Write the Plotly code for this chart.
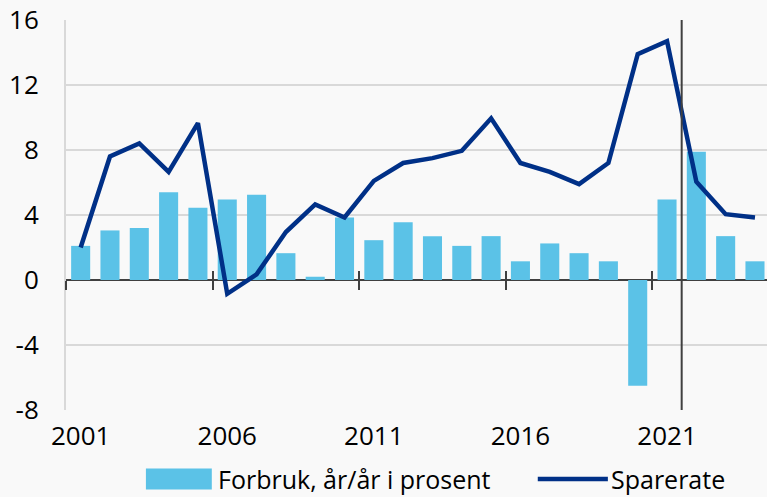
import plotly.graph_objects as go

years = list(range(2001, 2025))
forbruk = [2.1, 3.05, 3.2, 5.4, 4.45, 4.95, 5.25, 1.65, 0.2, 3.85, 2.45,
           3.55, 2.7, 2.1, 2.7, 1.15, 2.25, 1.65, 1.15, -6.5, 4.95, 7.9,
           2.7, 1.15]
sparerate = [2.0, 7.6, 8.4, 6.65, 9.65, -0.85, 0.35, 2.95, 4.65, 3.85, 6.1,
             7.2, 7.5, 7.95, 9.95, 7.2, 6.65, 5.9, 7.2, 13.9, 14.7, 6.05,
             4.05, 3.85]
x_ticks = [2001, 2006, 2011, 2016, 2021]
y_ticks = [-8, -4, 0, 4, 8, 12, 16]
y_ticktext = ["-8", "-4", "0", "4", "8", "12", "16"]
names = ["Forbruk, år/år i prosent", "Sparerate"]

FONT = "Open Sans"
FS = 26
LFS = 25
BAR = "#5BC2E7"
LINE = "#003087"
DARK = "#404040"
GRID = "#d9d9d9"
BG = "#f9f9f9"

xr = [years[0] - 0.5, years[-1] + 0.41]
boundaries = [y - 0.5 for y in x_ticks]
divider = (2021 + 2022) / 2

fig = go.Figure()
fig.add_trace(go.Bar(x=years, y=forbruk, name=names[0], showlegend=False,
                     marker=dict(color=BAR, line=dict(width=0)), width=0.65))
fig.add_trace(go.Scatter(x=years, y=sparerate, name=names[1], mode="lines",
                         showlegend=False, line=dict(color=LINE, width=4.5)))
# invisible helpers for overlay tick axes
for ax in ("x2", "x3"):
    fig.add_trace(go.Scatter(x=[xr[0]], y=[0], xaxis=ax, mode="markers",
                             marker=dict(opacity=0), showlegend=False,
                             hoverinfo="skip"))

fig.add_shape(type="line", xref="x", yref="paper", x0=divider, x1=divider,
              y0=0, y1=1, line=dict(color=DARK, width=2))

# manual legend (wide swatches)
ly = -0.177
fig.add_shape(type="rect", xref="paper", yref="paper", x0=0.114, x1=0.208,
              y0=ly - 0.027, y1=ly + 0.027, fillcolor=BAR, line=dict(width=0))
fig.add_annotation(xref="paper", yref="paper", x=0.216, y=ly,
                   text=names[0], showarrow=False, xanchor="left",
                   yanchor="middle", borderpad=0, font=dict(size=LFS))
fig.add_shape(type="line", xref="paper", yref="paper", x0=0.673, x1=0.773,
              y0=ly, y1=ly, line=dict(color=LINE, width=4.5))
fig.add_annotation(xref="paper", yref="paper", x=0.776, y=ly,
                   text=names[1], showarrow=False, xanchor="left",
                   yanchor="middle", borderpad=0, font=dict(size=LFS))

zero_pos = (0 - y_ticks[0]) / (y_ticks[-1] - y_ticks[0])

fig.update_layout(
    width=767, height=497,
    margin=dict(l=66, r=0, t=20, b=87, autoexpand=False),
    paper_bgcolor=BG, plot_bgcolor=BG,
    font=dict(family=FONT, size=FS, color="#000000"),
    showlegend=False,
    xaxis=dict(range=xr, tickvals=x_ticks, ticktext=[str(v) for v in x_ticks],
               showgrid=False, zeroline=False, showline=False, ticks="",
               ticklabelstandoff=8, automargin=False),
    xaxis2=dict(range=xr, overlaying="x", anchor="free", position=zero_pos,
                tickvals=boundaries, ticks="outside", ticklen=9, tickwidth=2,
                tickcolor=DARK, showticklabels=False, showgrid=False,
                zeroline=False, showline=False, automargin=False),
    xaxis3=dict(range=xr, overlaying="x", anchor="free", position=zero_pos,
                tickvals=boundaries, ticks="inside", ticklen=9, tickwidth=2,
                tickcolor=DARK, showticklabels=False, showgrid=False,
                zeroline=False, showline=False, automargin=False),
    yaxis=dict(range=[y_ticks[0], y_ticks[-1]], tickvals=y_ticks,
               ticktext=y_ticktext,
               showgrid=True, gridcolor=GRID, gridwidth=2,
               zeroline=True, zerolinecolor=DARK, zerolinewidth=2,
               showline=True, linecolor=GRID, linewidth=2,
               ticks="", ticklabelstandoff=20, automargin=False),
)

fig.write_html(
    "out.html",
    config={"displayModeBar": False},
    post_script="document.body.style.margin='0';"
                "document.body.style.overflow='hidden';"
                "document.body.style.background='" + BG + "';",
)
